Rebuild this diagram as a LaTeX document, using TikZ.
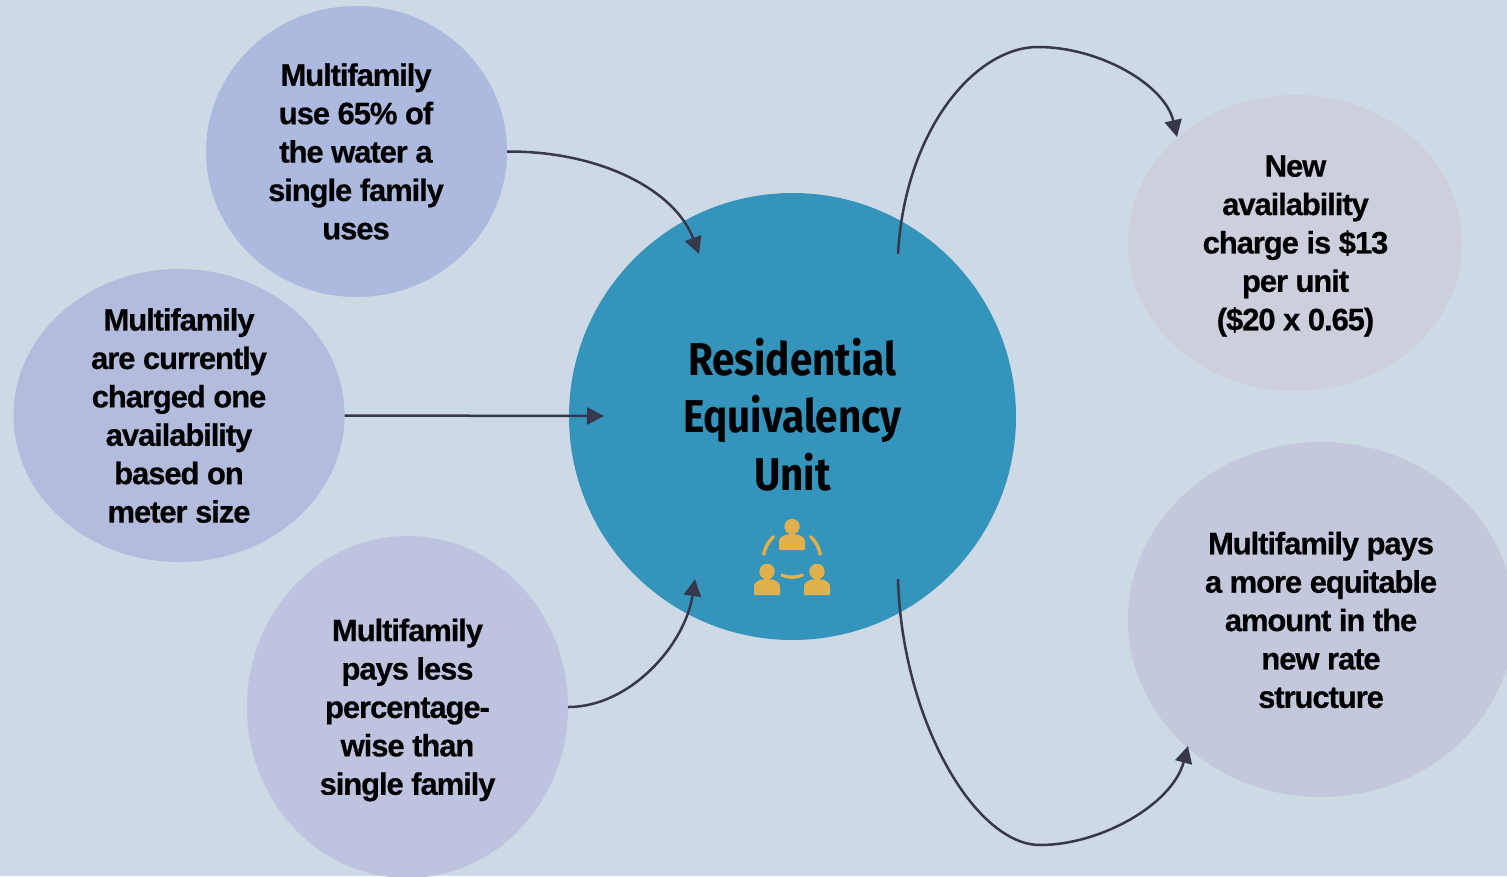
\documentclass[tikz,border=0pt]{standalone}
\usepackage{fontspec}
\setmainfont{Liberation Sans}[BoldFont=Liberation Sans Bold]
\newfontfamily\titlefont{Fira Sans}[FakeStretch=0.88,UprightFont=* Bold]
\usetikzlibrary{shapes.geometric,arrows.meta}
\definecolor{bgc}{HTML}{CDD9E5}
\definecolor{ca}{HTML}{ABBADE}
\definecolor{cb}{HTML}{B3BCDD}
\definecolor{cc}{HTML}{BEC3DF}
\definecolor{cd}{HTML}{CDCFDD}
\definecolor{ce}{HTML}{C3C8DD}
\definecolor{cmain}{HTML}{3594BC}
\definecolor{cicon}{HTML}{E0B04C}
\definecolor{cline}{HTML}{38384C}
\tikzset{
  x=1pt,y=-1pt,
  blob/.style={ellipse,inner sep=0pt,align=center,font=\bodyfont,text=black},
  conn/.style={draw=cline,line width=2.5pt,-{Triangle[length=17pt,width=17pt]}},
  iconarc/.style={draw=cicon,line width=3.4pt,line cap=round},
}
\newcommand{\bodyfont}{\fontsize{31}{38.4}\selectfont\bfseries\addfontfeature{LetterSpace=-3.5,FakeBold=0.5}}
\newcommand{\personicon}[2]{%
  \fill[cicon] (#1,#2-7.5) circle (7.7);
  \fill[cicon,rounded corners=1pt] (#1-13,#2+16) -- (#1-13,#2+8)
     .. controls (#1-13,#2+3) and (#1-7,#2) .. (#1,#2)
     .. controls (#1+7,#2) and (#1+13,#2+3) .. (#1+13,#2+8) -- (#1+13,#2+16) -- cycle;
}
\begin{document}
\begin{tikzpicture}
\useasboundingbox (0,0) rectangle (1507,876);
\clip (0,0) rectangle (1507,876);
\fill[bgc] (0,0) rectangle (1507,876);
\node[blob,fill=ca,minimum width=301pt,minimum height=291pt] (a) at (356.5,151.5) {};
\node[blob,fill=cb,minimum width=331pt,minimum height=293pt] (b) at (179,415.5) {};
\node[blob,fill=cc,minimum width=321pt,minimum height=342pt] (c) at (407.5,707) {};
\node[blob,fill=cmain,minimum width=447pt,minimum height=447pt] (m) at (792.5,416.5) {};
\node[blob,fill=cd,minimum width=334pt,minimum height=296pt] (d) at (1295,243) {};
\node[blob,fill=ce,minimum width=386pt,minimum height=355pt] (e) at (1321,619.5) {};
\node[blob,anchor=center] (ta) at (356,151.5) {Multifamily\\use 65\% of\\the water a\\single family\\uses};
\node[blob,anchor=center] (tb) at (179,415.5) {Multifamily\\are currently\\charged one\\availability\\based on\\meter size};
\node[blob,anchor=center] (tc) at (407.5,710) {Multifamily\\pays less\\percentage-\\wise than\\single family};
\node[blob,anchor=center] (td) at (1295.5,246) {New\\availability\\charge is \$13\\per unit\\(\$20 x 0.65)};
\node[blob,anchor=center] (te) at (1321,620) {Multifamily pays\\a more equitable\\amount in the\\new rate\\structure};
\node[align=center,inner sep=0pt,font=\titlefont\fontsize{46}{57.5}\selectfont,text=black] (tm) at (792.5,414.5) {Residential\\Equivalency\\Unit};
\coordinate (ma) at (699,254);
\coordinate (mb) at (604,416);
\coordinate (mc) at (695,579);
\coordinate (mdo) at (898,254);
\coordinate (meo) at (898,579);
\coordinate (dn) at (1177,137);
\coordinate (en) at (1188,746);
\coordinate (topd) at (1038,47);
\coordinate (bote) at (1040,845);
\draw[conn] (a.east) .. controls (600,151) and (675,190) .. (ma);
\draw[conn] (b.east) -- (mb);
\draw[conn] (c.east) .. controls (630,707) and (685,645) .. (mc);
\draw[conn] (mdo) .. controls (905,130) and (975,47) .. (topd) .. controls (1100,47) and (1165,85) .. (dn);
\draw[conn] (meo) .. controls (902,720) and (975,845) .. (bote) .. controls (1100,845) and (1172,805) .. (en);
\personicon{792}{534}
\personicon{767}{579}
\personicon{817}{579}
\draw[iconarc] (763.7,554.3) .. controls (765,548) and (768,542) .. (773.3,536.7);
\draw[iconarc] (820.3,554.3) .. controls (819,548) and (816,542) .. (810.7,536.7);
\draw[iconarc] (782,575) .. controls (788,578) and (796,578) .. (802.3,575);
\end{tikzpicture}
\end{document}
